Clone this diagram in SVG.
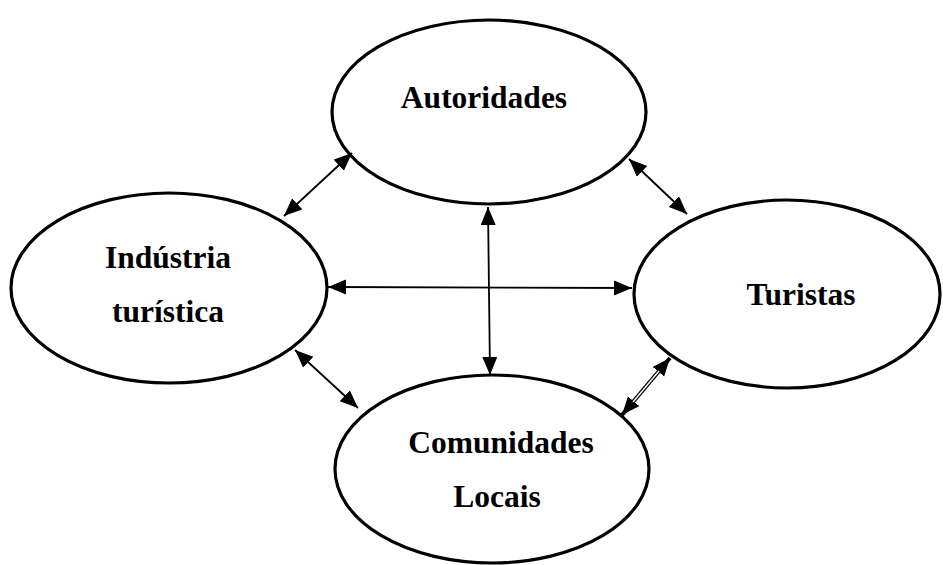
<svg xmlns="http://www.w3.org/2000/svg" width="943" height="565" viewBox="0 0 943 565">
<style>
.node ellipse{fill:#fff;stroke:#000;stroke-width:3.2}
.node text{font-family:"Liberation Serif","Times New Roman",serif;font-weight:bold;font-size:31.5px;text-anchor:middle;fill:#000}
.conn line{stroke:#000;stroke-width:1.8;marker-start:url(#ah);marker-end:url(#ah)}
.conn line.dbl{stroke-width:4}
.conn line.inner{stroke:#fff;stroke-width:1.4;marker-start:none;marker-end:none}
</style>
<defs>
<marker id="ah" markerUnits="userSpaceOnUse" markerWidth="20" markerHeight="16" refX="18" refY="7.5" orient="auto-start-reverse">
<path d="M0,0 L18,7.5 L0,15 Z" fill="#000"/>
</marker>
</defs>
<rect width="943" height="565" fill="#fff"/>
<g id="n-autoridades" class="node">
<ellipse cx="489" cy="112" rx="157" ry="92"/>
<text x="484" y="108">Autoridades</text>
</g>
<g id="n-industria" class="node">
<ellipse cx="169" cy="288" rx="158" ry="95"/>
<text x="168" y="268">Indústria</text>
<text x="168" y="322">turística</text>
</g>
<g id="n-turistas" class="node">
<ellipse cx="787" cy="294" rx="153" ry="94"/>
<text x="801" y="305">Turistas</text>
</g>
<g id="n-comunidades" class="node">
<ellipse cx="492" cy="469" rx="157" ry="94"/>
<text x="501" y="453">Comunidades</text>
<text x="497" y="507">Locais</text>
</g>
<g id="connectors" class="conn">
<line x1="352" y1="153" x2="284" y2="216"/>
<line x1="629" y1="159" x2="687" y2="214"/>
<line x1="328" y1="287" x2="632" y2="288"/>
<line x1="488" y1="207" x2="490" y2="375"/>
<line x1="295" y1="350" x2="358" y2="408"/>
<line class="dbl" x1="670" y1="358" x2="622" y2="415"/>
<line class="inner" x1="659" y1="371" x2="633" y2="402"/>
</g>
</svg>
